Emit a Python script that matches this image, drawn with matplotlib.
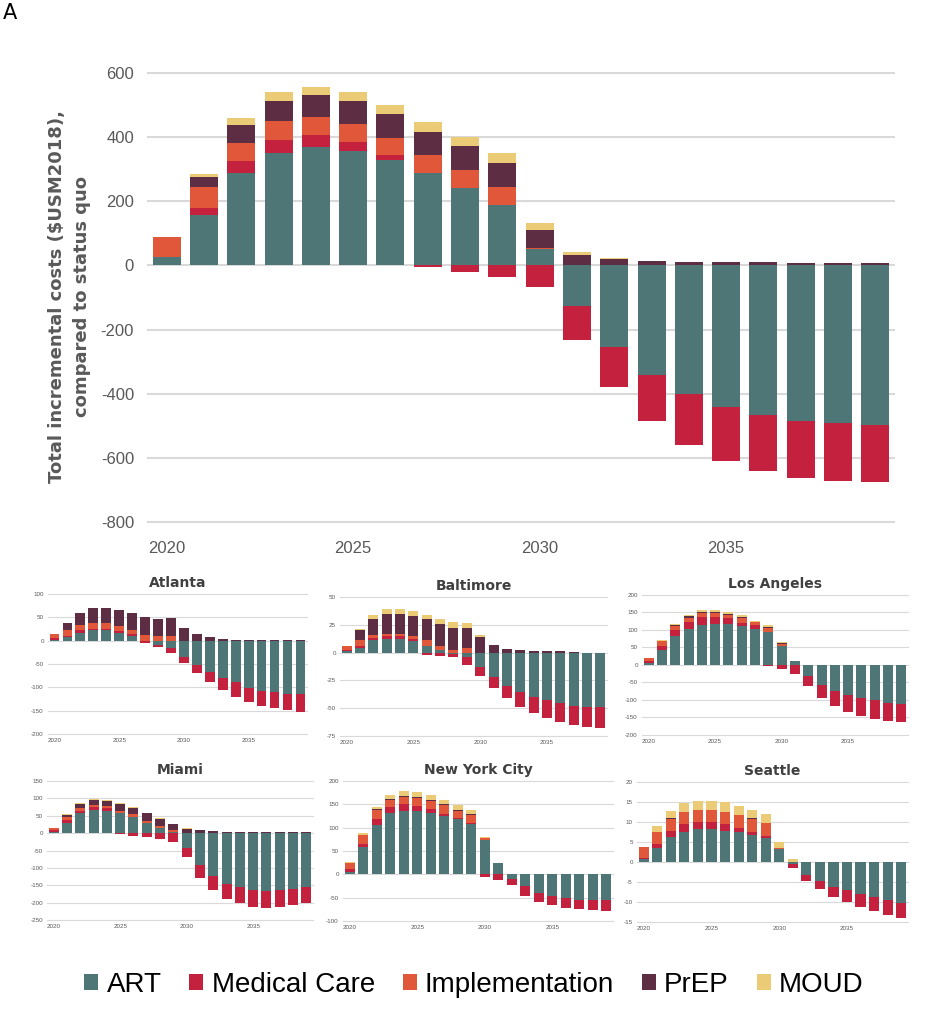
#!/usr/bin/env python3
# -*- coding: utf-8 -*-
"""
Stacked incremental cost bars: national total (A) plus six city panels.
Positive components stack upward from 0, negative ones stack downward.
"""

import matplotlib
matplotlib.use("Agg")
import matplotlib.pyplot as plt
from matplotlib.patches import Patch

plt.rcParams['font.family'] = ['Liberation Sans', 'DejaVu Sans']

YEARS = list(range(2020, 2040))
COMPONENTS = ['ART', 'Medical Care', 'Implementation', 'PrEP', 'MOUD']
COLORS = ['#4f7677', '#c4213f', '#e0573a', '#5c2d43', '#ebcb76']

# Total, all six cities ($M 2018)
total_art = [27, 157, 288, 350, 368, 357, 330, 288, 242, 189, 52, -128, -254, -341, -401, -442, -468, -484, -493, -497]
total_med = [0, 23, 36, 42, 37, 27, 14, -4, -20, -37, -66, -104, -126, -145, -159, -169, -174, -179, -179, -177]
total_impl = [62, 65, 59, 57, 57, 57, 54, 56, 54, 56, 2, 0, 0, 0, 2, 2, 2, 0, 0, 0]
total_prep = [1, 29, 55, 62, 70, 70, 74, 73, 75, 74, 57, 33, 21, 14, 10, 10, 10, 8, 8, 8]
total_moud = [0, 12, 22, 30, 25, 30, 27, 29, 29, 31, 20, 8, 3, 1, 0, 0, 0, 0, 0, 0]

# Atlanta
atl_art = [2, 7, 17, 23, 23, 17, 11, 0, -9, -16, -36, -52, -68, -81, -89, -101, -107, -111, -114, -115]
atl_med = [3, 3, 6, 3, 3, 4, 3, -5, -5, -11, -11, -17, -20, -25, -31, -30, -33, -33, -35, -37]
atl_impl = [9, 13, 11, 11, 11, 10, 9, 12, 9, 10, 0, 0, 0, 0, 0, 0, 0, 0, 0, 0]
atl_prep = [0, 14, 25, 32, 33, 35, 36, 38, 38, 39, 27, 14, 7, 3, 2, 2, 2, 2, 2, 2]
atl_moud = [0] * 20

# Baltimore
bal_art = [1, 4, 11, 12, 12, 10, 6, 2, -1, -4, -13, -22, -30, -35, -40, -43, -45.5, -48, -48.5, -48.5]
bal_med = [1, 2, 2, 3, 3, 2, -2, -3, -3, -7, -8, -10, -11, -13.5, -14.5, -15.7, -17, -17, -18.5, -19.5]
bal_impl = [4, 5, 2.5, 2, 2, 3, 5, 4, 2.5, 4, 0, 0, 0, 0, 0, 0, 0, 0, 0, 0]
bal_prep = [0, 9, 15, 18, 18, 18, 19, 20, 20, 18, 14, 7, 3, 2.4, 1, 1, 1, 0.5, 0, 0]
bal_moud = [0, 1, 3.5, 4, 4, 4, 4, 4, 5, 5, 2, 0, 0, 0, 0, 0, 0, 0, 0, 0]

# Los Angeles
la_art = [6, 42, 83, 102, 115, 118, 118, 112, 103, 93, 55, 11, -32, -56, -74, -85, -94, -101, -108, -111]
la_med = [4, 11, 16, 21, 22, 19, 15, 8, 11, -3, -12, -25, -29, -38, -44, -50, -53, -53, -51, -52]
la_impl = [11, 15, 12, 12, 12, 12, 11, 15, 9, 14, 6, 0, 0, 0, 0, 0, 0, 0, 0, 0]
la_prep = [0, 1, 3, 5, 2, 2, 2, 2, 1, 2, 1, 0, 0, 0, 0, 0, 0, 0, 0, 0]
la_moud = [0, 1, 3, 2, 5, 5, 5, 5, 3, 5, 3, 0, 0, 0, 0, 0, 0, 0, 0, 0]

# Miami
mia_art = [3, 30, 57, 66, 64, 57, 47, 30, 16, 4, -42, -93, -124, -145, -156, -164, -166, -164, -160, -156]
mia_med = [6, 7, 7, 8, 9, -3, -8, -12, -18, -25, -28, -35, -40, -44, -46, -48, -49, -48, -47, -46]
mia_impl = [5, 10, 8, 7, 6, 6, 7, 5.5, 4, 5, 0, 0, 0, 0, 0, 0, 0, 0, 0, 0]
mia_prep = [2, 5, 13, 14, 14, 22, 19, 21.5, 22, 17, 12, 8, 5, 4, 3, 3, 3, 2, 2, 2]
mia_moud = [0, 2, 3, 2, 2, 2, 2, 2, 2, 1, 2, 0, 0, 0, 0, 0, 0, 0, 0, 0]

# New York City
nyc_art = [6, 59, 106, 131, 136, 136, 131, 125, 118, 108, 74, 25, -9, -26, -39, -46, -51, -54, -54, -55]
nyc_med = [5, 7, 12, 13, 14, 11, 9, 4, 3, 3, -6, -12, -14, -20, -20, -20, -22, -21, -22, -24]
nyc_impl = [14, 18, 20, 15, 16, 17, 17, 20, 15, 16, 3, 0, 0, 0, 0, 0, 0, 0, 0, 0]
nyc_prep = [0, 0, 2, 2, 2, 2, 2, 2, 2, 2, 1, 0, 0, 0, 0, 0, 0, 0, 0, 0]
nyc_moud = [2, 4, 5, 9, 11, 10, 10, 8, 11, 9, 3, 0, 0, 0, 0, 0, 0, 0, 0, 0]

# Seattle
sea_art = [0.75, 3.6, 6.25, 7.5, 8.2, 8.2, 7.75, 7.5, 6.7, 6.1, 3.25, -0.6, -3.3, -4.8, -6.25, -7.1, -7.9, -8.75, -9.4, -10.25]
sea_med = [0.35, 0.8, 1.5, 1.9, 1.9, 1.8, 1.65, 1.1, 0.8, 0.3, 0, -0.9, -1.45, -2.0, -2.5, -3.0, -3.4, -3.55, -3.8, -3.75]
sea_impl = [2.65, 3.1, 3.05, 3.0, 2.8, 2.9, 3.0, 3.15, 3.3, 3.35, 0.25, 0, 0, 0, 0, 0, 0, 0, 0, 0]
sea_prep = [0, 0.1, 0.1, 0.1, 0.1, 0.1, 0.1, 0.1, 0.1, 0.1, 0.1, 0.1, 0, 0, 0, 0, 0, 0, 0, 0]
sea_moud = [0, 1.4, 1.8, 2.25, 2.25, 2.25, 2.5, 2.25, 2.2, 2.25, 1.4, 0.7, 0, 0, 0, 0, 0, 0, 0, 0]

MAIN_TICKS = [600, 400, 200, 0, -200, -400, -600, -800]

# (title, series, y ticks, axes rect in figure fraction)
CITIES = [
    ('Atlanta', [atl_art, atl_med, atl_impl, atl_prep, atl_moud],
     [100, 50, 0, -50, -100, -150, -200], [0.0514, 0.2733, 0.2776, 0.1386]),
    ('Baltimore', [bal_art, bal_med, bal_impl, bal_prep, bal_moud],
     [50, 25, 0, -25, -50, -75], [0.3644, 0.2713, 0.2862, 0.1376]),
    ('Los Angeles', [la_art, la_med, la_impl, la_prep, la_moud],
     [200, 150, 100, 50, 0, -50, -100, -150, -200], [0.6881, 0.2723, 0.2851, 0.1386]),
    ('Miami', [mia_art, mia_med, mia_impl, mia_prep, mia_moud],
     [150, 100, 50, 0, -50, -100, -150, -200, -250], [0.0504, 0.0891, 0.2851, 0.1376]),
    ('New York City', [nyc_art, nyc_med, nyc_impl, nyc_prep, nyc_moud],
     [200, 150, 100, 50, 0, -50, -100], [0.3676, 0.0881, 0.2894, 0.1386]),
    ('Seattle', [sea_art, sea_med, sea_impl, sea_prep, sea_moud],
     [20, 15, 10, 5, 0, -5, -10, -15], [0.6827, 0.0871, 0.2905, 0.1386]),
]


def stacked_bars(ax, series, width=0.75):
    """Stack positive values up and negative values down, Excel style"""
    pos = [0.0] * len(YEARS)
    neg = [0.0] * len(YEARS)
    for vals, color in zip(series, COLORS):
        bottoms = []
        for i, v in enumerate(vals):
            if v >= 0:
                bottoms.append(pos[i])
                pos[i] += v
            else:
                bottoms.append(neg[i])
                neg[i] += v
        ax.bar(YEARS, vals, bottom=bottoms, width=width, color=color,
               linewidth=0, zorder=2)


def style_axes(ax, yticks, tick_size, grid_lw, pad):
    """Gridlines only, no spines"""
    ax.set_ylim(min(yticks), max(yticks))
    ax.set_xlim(2019.5, 2039.5)
    ax.set_yticks(yticks)
    ax.set_yticklabels([str(t) for t in yticks])
    ax.set_xticks([2020, 2025, 2030, 2035])
    ax.tick_params(axis='both', length=0, labelsize=tick_size,
                   labelcolor='#595959', pad=pad)
    for spine in ax.spines.values():
        spine.set_visible(False)
    for t in yticks:
        ax.axhline(t, color='#d9d9d9', linewidth=grid_lw, zorder=1, clip_on=False)


fig = plt.figure(figsize=(9.33, 10.10), dpi=100)

# Main panel
ax = fig.add_axes([0.1586, 0.4832, 0.7996, 0.4446])
stacked_bars(ax, [total_art, total_med, total_impl, total_prep, total_moud])
style_axes(ax, MAIN_TICKS, 12, 1.5, 10)
ax.tick_params(axis='x', pad=14)

fig.text(0.075, 0.706, 'Total incremental costs ($USM2018),\ncompared to status quo',
         rotation=90, ha='center', va='center', fontsize=13, fontweight='bold',
         color='#595959', linespacing=1.5, family=['DejaVu Sans'])
fig.text(0.003, 0.997, 'A', ha='left', va='top', fontsize=15,
         family=['DejaVu Sans'])

# City panels
for title, series, yticks, rect in CITIES:
    cax = fig.add_axes(rect)
    stacked_bars(cax, series)
    style_axes(cax, yticks, 4.5, 0.8, 3)
    cax.set_title(title, fontsize=10, fontweight='bold', color='#404040', pad=5,
                  family=['DejaVu Sans'])

handles = [Patch(facecolor=c, edgecolor='none') for c in COLORS]
fig.legend(handles, COMPONENTS, loc='center', bbox_to_anchor=(0.508, 0.025),
           ncol=5, frameon=False, fontsize=20, handlelength=0.5,
           handleheight=0.5, handletextpad=0.3, columnspacing=1.0)

fig.savefig('out.png', dpi=100)
print("[Saved] out.png")
